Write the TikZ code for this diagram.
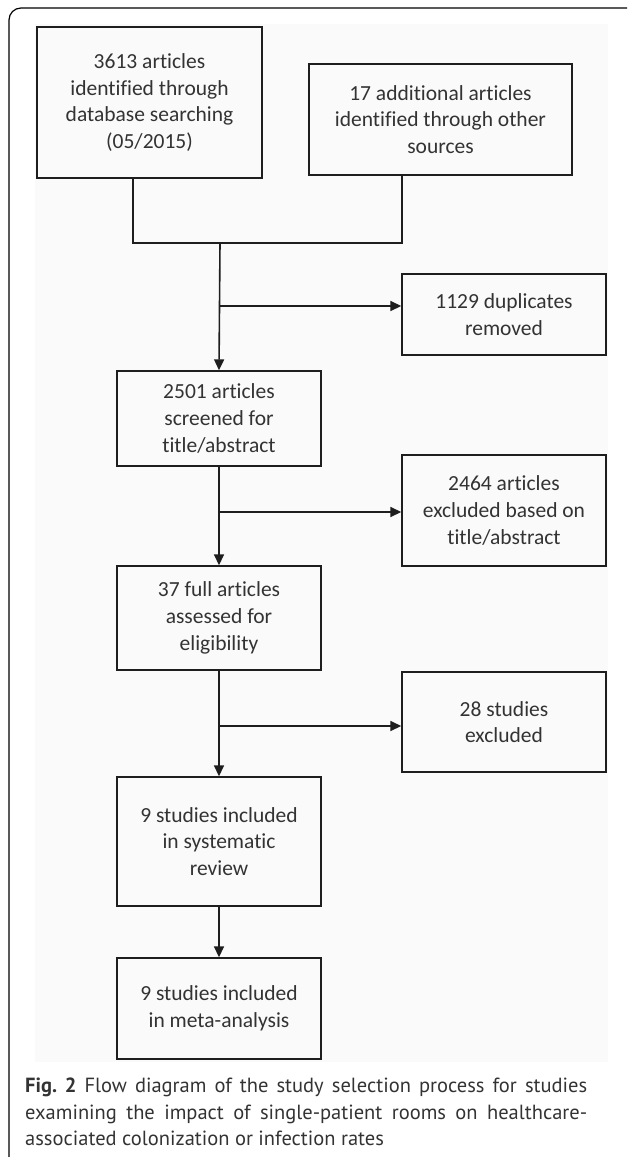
\documentclass[tikz,border=0pt]{standalone}
\usepackage{fontspec}
\usetikzlibrary{arrows.meta, positioning}
\newfontfamily\boxfont[Ligatures=NoCommon, Contextuals=NoAlternate]{Carlito}
\newfontfamily\capfont{PT Sans}
\definecolor{flowtext}{HTML}{333333}
\definecolor{flowline}{HTML}{1E1E1E}

\begin{document}
\frenchspacing
\begin{tikzpicture}[x=1pt, y=-1pt,
  rec/.style={draw=flowline, line width=1.4pt, align=center, inner sep=0pt,
    minimum width=204pt, minimum height=#1,
    font=\boxfont\fontsize{21.5}{26.7}\selectfont, text=flowtext},
  rec/.default=100pt,
  link/.style={draw=flowline, line width=1.6pt},
  arr/.style={link, -{Triangle[length=11pt, width=10pt]}}
]
  \useasboundingbox (0,0) rectangle (627,1157);

  % figure frame and faint image area
  \fill[black!2] (35,24) rectangle (608,1062);
  \draw[line width=1.2pt, rounded corners=12pt] (627,8) -- (9,8) -- (9,1157);

  % Sources
  \node[rec=151pt, minimum width=225pt] (src1) at (149.5,102.5)
    {3613 articles\\identified through\\database searching\\(05/2015)};
  \node[rec=111pt, minimum width=263pt] (src2) at (440.5,119.5)
    {17 additional articles\\identified through other\\sources};

  % Main column
  \node[rec=95pt]  (scr)  at (219,418.5) {2501 articles\\screened for\\title/abstract};
  \node[rec=104pt] (full) at (219,618)   {37 full articles\\assessed for\\eligibility};
  \node[rec=129pt] (sys)  at (219,841.5) {9 studies included\\in systematic\\review};
  \node[rec=101pt] (meta) at (219,1008.5) {9 studies included\\in meta-analysis};

  % Exclusions
  \node[rec=81pt]  (dup)  at (504,314.5) {1129 duplicates\\removed};
  \node[rec=111pt] (exc1) at (504,510.5) {2464 articles\\excluded based on\\title/abstract};
  \node[rec=100pt] (exc2) at (504,722)   {28 studies\\excluded};

  % Merge of the sources
  \coordinate (join) at (220,243);
  \draw[link] ([xshift=-16.5pt]src1.south) |- (join) -| ([xshift=-38.5pt]src2.south);

  % Flow down
  \draw[arr] (join) -- (scr.north);
  \draw[arr] (scr) -- (full);
  \draw[arr] (full) -- (sys);
  \draw[arr] (sys) -- (meta);

  % Side branches
  \coordinate (br1) at (220,306);
  \coordinate (br2) at (219,512);
  \coordinate (br3) at (219,726);
  \draw[arr] (br1) -- (br1 -| dup.west);
  \draw[arr] (br2) -- (br2 -| exc1.west);
  \draw[arr] (br3) -- (br3 -| exc2.west);

  % Caption
  \node[anchor=north west, inner sep=0pt, text width=562pt, align=justify,
    text=flowtext, font=\capfont\fontsize{20.5}{26.3}\selectfont] (cap) at (25,1078)
    {\textbf{Fig. 2} Flow diagram of the study selection process for studies\linebreak
     examining the impact of single-patient rooms on healthcare-\linebreak
     associated colonization or infection rates};
\end{tikzpicture}
\end{document}
